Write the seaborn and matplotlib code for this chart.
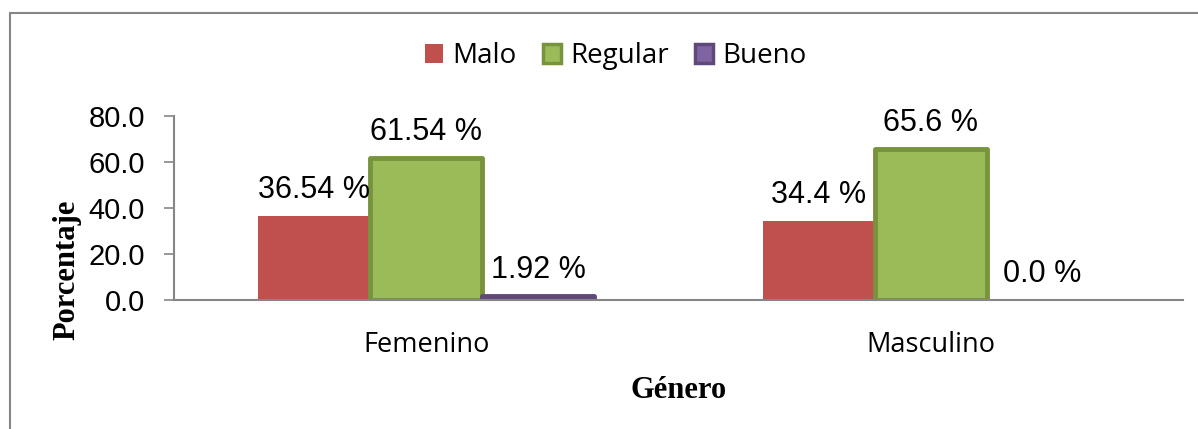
import pandas as pd
import matplotlib.pyplot as plt
import seaborn as sns
from matplotlib.patches import Rectangle
from matplotlib.ticker import FormatStrFormatter

# Data
genero = ['Femenino', 'Masculino']
niveles = ['Malo', 'Regular', 'Bueno']
malo = [36.54, 34.4]
regular = [61.54, 65.6]
bueno = [1.92, 0.0]

colores = ['#C0504D', '#9BBB59', '#8064A2']
bordes = [None, '#77933C', '#5F497A']

df = pd.DataFrame({
    'Género': genero * 3,
    'Nivel': [n for n in niveles for _ in genero],
    'Porcentaje': malo + regular + bueno,
})

sns.set_style('white')
plt.rcParams['font.family'] = ['Liberation Sans', 'DejaVu Sans']
plt.rcParams.update({'text.color': 'black', 'axes.labelcolor': 'black',
                     'xtick.color': 'black', 'ytick.color': 'black'})

fig = plt.figure(figsize=(11.98, 4.29), dpi=100)
ax = fig.add_axes([0.1452, 0.300, 0.8422, 0.4303])

sns.barplot(data=df, x='Género', y='Porcentaje', hue='Nivel', hue_order=niveles,
            palette=colores, width=0.665, saturation=1, ax=ax, legend=False)

# bar edges: Regular and Bueno have a darker outline, Malo has none
for cont, borde in zip(ax.containers, bordes):
    for bar in cont:
        if borde is None or bar.get_height() == 0:
            bar.set_linewidth(0)
        else:
            bar.set_edgecolor(borde)
            bar.set_linewidth(3.5)
            bar.set_joinstyle('round')

# data labels
for cont, vals in zip(ax.containers, [malo, regular, bueno]):
    ax.bar_label(cont, labels=[f'{v} %' for v in vals], padding=8,
                 fontsize=22, family='Liberation Sans', color='black')

ax.set_ylim(0, 80)
ax.set_xlim(-0.5, 1.5)
ax.set_yticks([0, 20, 40, 60, 80])
ax.yaxis.set_major_formatter(FormatStrFormatter('%.1f'))
ax.tick_params(axis='y', length=7, width=1.2, color='#868686', labelcolor='black',
               pad=14, labelsize=21, left=True)
ax.tick_params(axis='x', length=0, pad=22, labelcolor='black')
for lbl in ax.get_xticklabels():
    lbl.set_fontfamily('Open Sans')
    lbl.set_fontsize(19.5)

sns.despine(ax=ax)
for side in ['left', 'bottom']:
    ax.spines[side].set_color('#868686')
    ax.spines[side].set_linewidth(1.5)

ax.set_ylabel('Porcentaje', fontsize=22, fontweight='bold', family='Liberation Serif',
              va='center', color='black')
ax.yaxis.set_label_coords(-0.1065, 0.164)
ax.set_xlabel('Género', fontsize=22, fontweight='bold', family='Liberation Serif',
              va='center', color='black')
ax.xaxis.set_label_coords(0.5, -0.491)

leg = ax.legend(handles=ax.containers, labels=niveles, ncol=3, frameon=False,
                loc='center', bbox_to_anchor=(0.514, 0.869), bbox_transform=fig.transFigure,
                prop={'family': 'Open Sans', 'size': 20},
                handlelength=0.65, handleheight=0.65, handletextpad=0.32, columnspacing=0.95)
for h in leg.legend_handles:
    if h.get_linewidth() > 0:
        h.set_linewidth(2.5)
for t in leg.get_texts():
    t.set_color('black')

# outer chart frame (only top and left edges show in the crop)
fig.add_artist(Rectangle((10 / 1198, -0.2), 1.2, 0.2 + 1 - 13 / 429, transform=fig.transFigure,
                         fill=False, edgecolor='#868686', linewidth=1.5, clip_on=False))

fig.savefig('out.png', dpi=100)
